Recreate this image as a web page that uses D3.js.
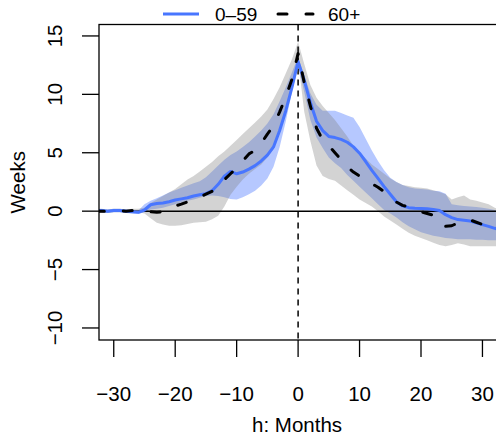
<!DOCTYPE html>
<html><head><meta charset="utf-8">
<script src="https://cdn.jsdelivr.net/npm/d3@7"></script>
<style>html,body{margin:0;padding:0;background:#fff}svg{display:block}text{font-family:"Liberation Sans",Arial,Helvetica,sans-serif;fill:#000}</style>
</head><body>
<svg id="chart" width="496" height="441"></svg>
<script>
const months = [-33,-32,-31,-30,-29,-28,-27,-26,-25,-24,-23,-22,-21,-20,-19,-18,-17,-16,-15,-14,-13,-12,-11,-10,-9,-8,-7,-6,-5,-4,-3,-2,-1,0,1,2,3,4,5,6,7,8,9,10,11,12,13,14,15,16,17,18,19,20,21,22,23,24,25,26,27,28,29,30,31,32,33];
const young = [0.05,0.05,0.0,0.05,0.05,0.0,-0.05,-0.1,0.1,0.55,0.65,0.7,0.8,0.95,1.05,1.15,1.3,1.4,1.5,1.75,2.3,3.0,3.4,3.2,3.35,3.6,3.9,4.3,4.8,5.5,6.9,8.6,10.6,12.8,11.2,9.3,7.7,6.9,6.4,6.3,6.15,5.9,5.5,4.96,4.25,3.5,2.8,2.1,1.45,0.8,0.45,0.3,0.25,0.22,0.2,0.15,0.05,-0.3,-0.55,-0.72,-0.78,-0.85,-1.0,-1.15,-1.3,-1.47,-1.6];
const youngHi = [0.2,0.2,0.15,0.2,0.2,0.15,0.1,0.05,0.6,0.9,1.1,1.35,1.6,1.8,2.0,2.2,2.4,2.55,2.9,3.4,3.9,4.4,4.8,5.1,5.5,5.9,6.4,6.9,7.5,8.3,9.4,10.6,11.9,13.2,11.6,10.1,9.1,8.6,8.6,8.6,8.4,8.2,8.0,7.2,6.2,5.2,4.3,3.5,2.85,2.5,2.25,2.05,1.95,1.9,1.85,1.75,1.7,1.5,0.6,0.5,0.45,0.4,0.35,0.3,0.2,0.1,0.0];
const youngLo = [-0.1,-0.1,-0.15,-0.1,-0.1,-0.15,-0.2,-0.25,-0.1,0.15,0.2,0.3,0.45,0.6,0.75,0.9,1.0,1.15,1.3,1.35,1.3,1.2,1.05,1.0,1.2,1.45,1.75,2.2,2.8,3.8,5.5,7.7,10.2,12.4,10.2,7.8,6.3,5.4,4.6,4.1,3.7,3.1,2.6,2.1,1.6,1.1,0.6,0.1,-0.2,-0.55,-0.95,-1.3,-1.55,-1.8,-1.95,-2.1,-2.2,-2.3,-2.35,-2.4,-2.4,-2.4,-2.45,-2.45,-2.5,-2.5,-2.5];
const old = [0.0,0.0,0.0,0.05,0.05,0.0,0.05,0.05,0.0,-0.05,-0.1,-0.05,0.2,0.45,0.6,0.8,1.0,1.2,1.45,1.7,2.1,2.7,3.2,3.7,4.3,4.9,5.2,5.8,6.6,7.3,8.5,9.8,11.3,13.5,11.0,9.0,7.1,6.1,5.6,5.0,4.4,3.8,3.35,3.0,2.7,2.35,2.05,1.67,1.2,0.78,0.5,0.35,0.15,-0.04,-0.2,-0.35,-0.6,-1.3,-1.25,-1.0,-0.8,-0.75,-0.95,-1.15,-1.35,-1.5,-1.6];
const oldHi = [0.15,0.15,0.15,0.2,0.2,0.15,0.2,0.2,0.3,0.7,1.0,1.3,1.6,1.9,2.3,2.7,3.0,3.4,3.8,4.2,4.7,5.1,5.6,6.1,6.6,7.1,7.6,8.1,8.7,9.6,10.6,11.8,13.0,14.5,12.6,10.8,9.7,9.0,8.4,7.8,7.1,6.4,5.6,5.0,4.5,4.0,3.6,3.2,2.8,2.5,2.25,2.15,2.05,2.0,1.95,1.8,1.65,1.45,1.0,1.2,1.35,1.0,0.9,0.75,0.6,0.3,0.1];
const oldLo = [-0.15,-0.15,-0.15,-0.1,-0.1,-0.15,-0.1,-0.1,-0.2,-0.6,-1.0,-1.15,-1.25,-1.25,-1.2,-1.1,-1.0,-0.95,-0.9,-0.7,-0.4,0.4,1.4,2.1,2.7,3.2,3.6,4.0,4.6,5.3,6.7,8.6,10.7,12.9,8.5,6.0,3.9,3.0,2.75,2.6,2.2,1.8,1.4,1.0,0.7,0.4,0.0,-0.45,-0.8,-1.15,-1.5,-1.85,-2.1,-2.3,-2.5,-2.7,-2.9,-3.0,-2.9,-2.75,-2.85,-3.0,-3.0,-3.0,-3.0,-3.0,-3.0];
const xTicks = [-30,-20,-10,0,10,20,30];
const yTicks = [-10,-5,0,5,10,15];
const legendLabels = ["0\u201359","60+"];
const xLabel = "h: Months", yLabel = "Weeks";

const svg = d3.select("#chart");
const L = 99, R = 497.2, T = 24.5, B = 340;
const x = d3.scaleLinear().domain([-32.4, 32.4]).range([L, R]);
const y = d3.scaleLinear().domain([-11.03, 15.98]).range([B, T]);
const fmt = v => (v < 0 ? "\u2212" + Math.abs(v) : String(v));

svg.append("defs").append("clipPath").attr("id","clip")
  .append("rect").attr("x",L).attr("y",T).attr("width",R-L).attr("height",B-T);
const g = svg.append("g").attr("clip-path","url(#clip)");

const idx = months.map((m,i)=>i);
const band = (hi, lo) => d3.area().x(i=>x(months[i])).y0(i=>y(lo[i])).y1(i=>y(hi[i]));
const line = s => d3.line().x(i=>x(months[i])).y(i=>y(s[i]));

g.append("path").attr("d", band(youngHi, youngLo)(idx)).attr("fill","rgb(72,118,255)").attr("fill-opacity",0.4);
g.append("path").attr("d", band(oldHi, oldLo)(idx)).attr("fill","rgb(128,128,128)").attr("fill-opacity",0.35);

// reference lines
g.append("line").attr("x1",L).attr("x2",R).attr("y1",y(0)).attr("y2",y(0)).attr("stroke","#000").attr("stroke-width",1.5);
g.append("line").attr("x1",x(0)).attr("x2",x(0)).attr("y1",T).attr("y2",B).attr("stroke","#000").attr("stroke-width",1.5).attr("stroke-dasharray","6,5");

g.append("path").attr("d", line(young)(idx)).attr("fill","none").attr("stroke","rgb(72,118,255)").attr("stroke-width",3).attr("stroke-linejoin","round").attr("stroke-linecap","round");
g.append("path").attr("d", line(old)(idx)).attr("fill","none").attr("stroke","#000").attr("stroke-width",3).attr("stroke-linejoin","round").attr("stroke-linecap","round").attr("stroke-dasharray","9,19");

// box
svg.append("rect").attr("x",L).attr("y",T).attr("width",R-L).attr("height",B-T).attr("fill","none").attr("stroke","#000").attr("stroke-width",1.3);

// x axis
const xa = svg.append("g");
xa.selectAll("line.t").data(xTicks).join("line").attr("x1",d=>x(d)).attr("x2",d=>x(d)).attr("y1",B).attr("y2",B+17).attr("stroke","#000").attr("stroke-width",1.3);
xa.selectAll("text").data(xTicks).join("text").attr("x",d=>x(d)).attr("y",400.5).attr("text-anchor","middle").attr("font-size",20.5).text(fmt);
svg.append("text").attr("x",(L+R)/2 - 1).attr("y",432).attr("text-anchor","middle").attr("font-size",20.5).text(xLabel);

// y axis
const ya = svg.append("g");
ya.selectAll("line").data(yTicks).join("line").attr("x1",L-17).attr("x2",L).attr("y1",d=>y(d)).attr("y2",d=>y(d)).attr("stroke","#000").attr("stroke-width",1.3);
ya.selectAll("text").data(yTicks).join("text").attr("transform",d=>`translate(61.5,${y(d)}) rotate(-90)`).attr("text-anchor","middle").attr("font-size",20.5).text(fmt);
svg.append("text").attr("transform",`translate(25,${(T+B)/2}) rotate(-90)`).attr("text-anchor","middle").attr("font-size",20.5).text(yLabel);

// legend
const lg = svg.append("g");
lg.append("line").attr("x1",163).attr("x2",199).attr("y1",14).attr("y2",14).attr("stroke","rgb(72,118,255)").attr("stroke-width",3);
lg.append("text").attr("x",215).attr("y",20.7).attr("font-size",19).text(legendLabels[0]);
lg.append("line").attr("x1",278).attr("x2",313).attr("y1",14).attr("y2",14).attr("stroke","#000").attr("stroke-width",3).attr("stroke-linecap","round").attr("stroke-dasharray","9,19");
lg.append("text").attr("x",328).attr("y",20.7).attr("font-size",19).text(legendLabels[1]);
</script>
</body></html>
